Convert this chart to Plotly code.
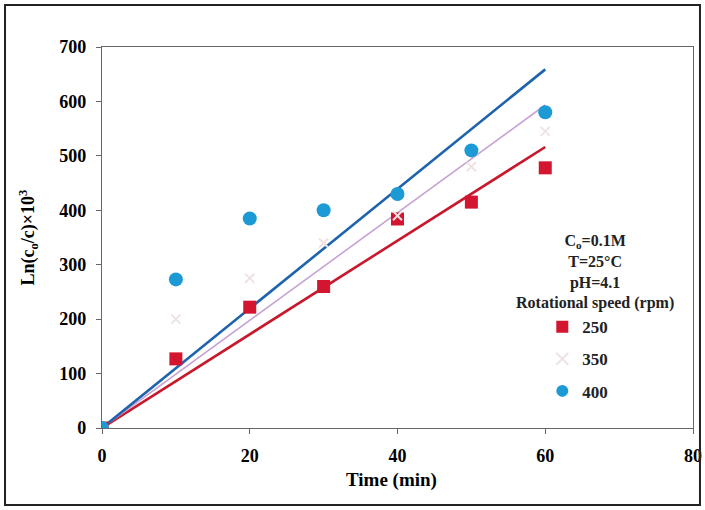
import plotly.graph_objects as go

time_min = [0, 10, 20, 30, 40, 50, 60]
rpm_250 = [0, 127, 222, 260, 384, 415, 478]
rpm_350 = [0, 200, 275, 340, 390, 480, 545]
rpm_400 = [0, 273, 385, 400, 430, 510, 580]
fit_x = [0, 60]
x_ticks = [0, 20, 40, 60, 80]
y_ticks = [0, 100, 200, 300, 400, 500, 600, 700]


def origin_fit(xs, ys):
    k = sum(a * b for a, b in zip(xs, ys)) / sum(a * a for a in xs)
    return [k * v for v in fit_x]


FONT = "Liberation Serif"
fig = go.Figure()

series = [
    ("250", rpm_250, dict(symbol="square", size=13, color="#d3152f"), "#c8182c", 2.6),
    ("350", rpm_350, dict(symbol="x-thin", size=9, color="#efe2e2", line=dict(width=2, color="#efe2e2")), "#c8a3d2", 1.6),
    ("400", rpm_400, dict(symbol="circle", size=14, color="#1b9ad6"), "#1d64ad", 2.6),
]

for name, ys, mk, lc, lw in series:
    fig.add_trace(go.Scatter(x=fit_x, y=origin_fit(time_min, ys), mode="lines",
                             line=dict(color=lc, width=lw), showlegend=False,
                             hoverinfo="skip"))
for i, (name, ys, mk, lc, lw) in enumerate(series):
    fig.add_trace(go.Scatter(x=time_min, y=ys, mode="markers", name=name,
                             marker=mk, legendgroup=name, legendrank=i))

axis_common = dict(showline=True, linecolor="#666", linewidth=1.3, mirror=True,
                   ticks="outside", ticklen=5, tickcolor="#666",
                   showgrid=False, zeroline=False, automargin=False,
                   tickfont=dict(family=FONT, size=18, color="black", weight="bold"))

fig.update_layout(
    width=705, height=510,
    margin=dict(l=102, r=12, t=47, b=82),
    paper_bgcolor="white", plot_bgcolor="white",
    font=dict(family=FONT, color="black", size=15),
    legend=dict(x=0.745, y=0.312, xanchor="left", yanchor="top",
                font=dict(family=FONT, size=17, color="#222", weight="bold"),
                tracegroupgap=7, itemwidth=30, itemsizing="constant",
                bgcolor="rgba(0,0,0,0)"),
    xaxis=dict(range=[0, 80], tickvals=x_ticks, ticklabelstandoff=6, **axis_common),
    yaxis=dict(range=[0, 700], tickvals=y_ticks, ticklabelstandoff=6,
               title=dict(text="Ln(c<sub>o</sub>/c)×10<sup>3</sup>", standoff=19,
                          font=dict(family=FONT, size=18, color="black", weight="bold")),
               **axis_common),
)

fig.add_annotation(xref="paper", yref="paper", x=0.49, y=-0.136, xanchor="center", yanchor="middle",
                   showarrow=False, text="Time (min)",
                   font=dict(family=FONT, size=19, color="black", weight="bold"))

fig.add_annotation(xref="paper", yref="paper", x=0.835, y=0.52, xanchor="center", yanchor="top",
                   showarrow=False, align="center",
                   text="C<sub>o</sub>=0.1M<br>T=25°C<br>pH=4.1<br>Rotational speed (rpm)",
                   font=dict(family=FONT, size=16, color="#222", weight="bold"))

fig.add_shape(type="rect", xref="paper", yref="paper", x0=-0.1641, x1=1.0118, y0=-0.2021, y1=1.1102,
              line=dict(color="#222", width=2), fillcolor="rgba(0,0,0,0)")

fig.write_html("out.html", config={"displayModeBar": False},
               post_script="document.body.style.margin='0px';")
